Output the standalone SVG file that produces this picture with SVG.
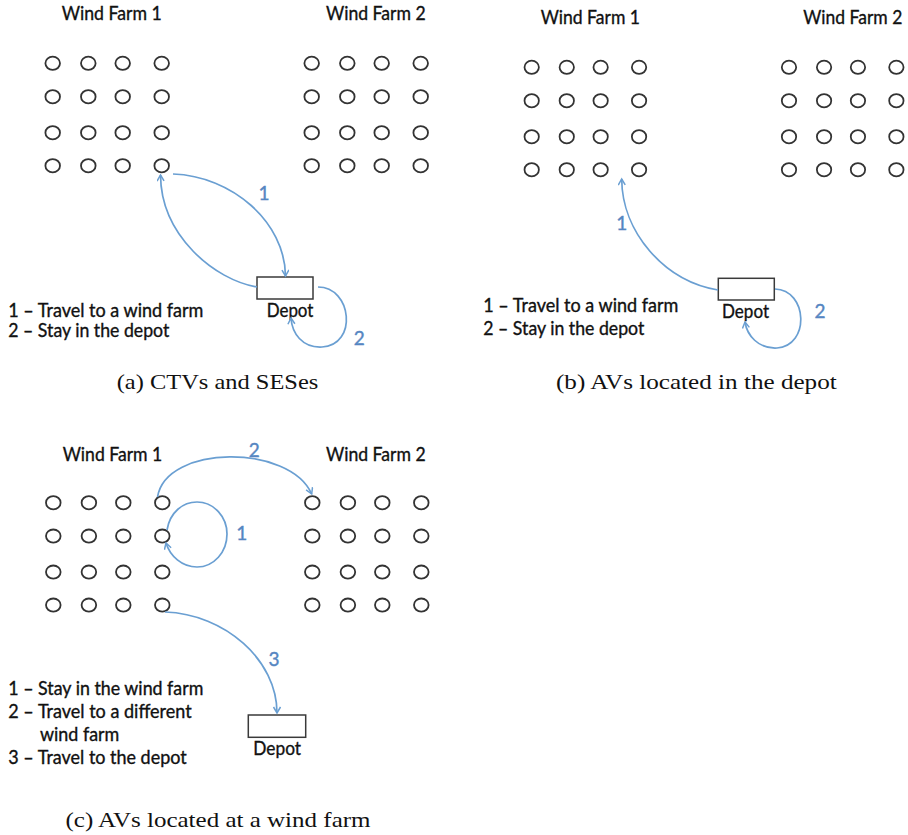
<svg xmlns="http://www.w3.org/2000/svg" width="908" height="835" viewBox="0 0 908 835">
  <style>
    .t { fill: none; stroke: #333333; stroke-width: 1.8; }
    .depot { fill: #ffffff; stroke: #3a3a3a; stroke-width: 1.5; }
    .lbl { font-family: Lato, "Liberation Sans", sans-serif; font-size: 18.5px; fill: #111111; stroke: #111111; stroke-width: 0.35px; }
    .num { font-family: Lato, "Liberation Sans", sans-serif; font-size: 19px; fill: #5586c2; stroke: #5586c2; stroke-width: 0.4px; text-anchor: middle; }
    .cap { font-family: "Liberation Serif", "DejaVu Serif", serif; font-size: 21.5px; fill: #111111; }
    .arc { fill: none; stroke: #6a9fd2; stroke-width: 1.7; marker-end: url(#head); }
  </style>
  <defs>
    <marker id="head" markerWidth="10" markerHeight="10" refX="7" refY="4" orient="auto" markerUnits="userSpaceOnUse">
      <path d="M1,0.5 L7,4 L1,7.5" fill="none" stroke="#6a9fd2" stroke-width="1.5"/>
    </marker>
    <!-- one 4x4 turbine array, origin at the top-left turbine -->
    <g id="farm">
      <ellipse class="t" cx="0" cy="0" rx="7.3" ry="6.6"/>
      <ellipse class="t" cx="35.6" cy="0" rx="7.3" ry="6.6"/>
      <ellipse class="t" cx="70" cy="0" rx="7.3" ry="6.6"/>
      <ellipse class="t" cx="109" cy="0" rx="7.3" ry="6.6"/>
      <ellipse class="t" cx="0" cy="33.4" rx="7.3" ry="6.6"/>
      <ellipse class="t" cx="35.6" cy="33.4" rx="7.3" ry="6.6"/>
      <ellipse class="t" cx="70" cy="33.4" rx="7.3" ry="6.6"/>
      <ellipse class="t" cx="109" cy="33.4" rx="7.3" ry="6.6"/>
      <ellipse class="t" cx="0" cy="69.4" rx="7.3" ry="6.6"/>
      <ellipse class="t" cx="35.6" cy="69.4" rx="7.3" ry="6.6"/>
      <ellipse class="t" cx="70" cy="69.4" rx="7.3" ry="6.6"/>
      <ellipse class="t" cx="109" cy="69.4" rx="7.3" ry="6.6"/>
      <ellipse class="t" cx="0" cy="102.4" rx="7.3" ry="6.6"/>
      <ellipse class="t" cx="35.6" cy="102.4" rx="7.3" ry="6.6"/>
      <ellipse class="t" cx="70" cy="102.4" rx="7.3" ry="6.6"/>
      <ellipse class="t" cx="109" cy="102.4" rx="7.3" ry="6.6"/>
    </g>
  </defs>

  <rect width="908" height="835" fill="#ffffff"/>

  <!-- ===== (a) CTVs and SESes ===== -->
  <g id="a-wf1">
    <text class="lbl" x="61.7" y="20" textLength="100" lengthAdjust="spacingAndGlyphs">Wind Farm 1</text>
    <use href="#farm" x="52.7" y="63.3"/>
  </g>
  <g id="a-wf2">
    <text class="lbl" x="326" y="20" textLength="99.7" lengthAdjust="spacingAndGlyphs">Wind Farm 2</text>
    <use href="#farm" x="311.7" y="63.3"/>
  </g>
  <g id="a-depot">
    <rect class="depot" x="257" y="277" width="56" height="22"/>
    <text class="lbl" x="266.7" y="316.5" textLength="46.7" lengthAdjust="spacingAndGlyphs">Depot</text>
  </g>
  <g id="a-legend">
    <text class="lbl" x="8.3" y="316.5" textLength="195" lengthAdjust="spacingAndGlyphs">1 – Travel to a wind farm</text>
    <text class="lbl" x="8.3" y="337" textLength="161" lengthAdjust="spacingAndGlyphs">2 – Stay in the depot</text>
  </g>
  <g id="a-connectors">
    <path class="arc" d="M257,287 C215,280 161,236 160.5,175"/>
    <path class="arc" d="M173,174 C232,176 285,222 285.5,276"/>
    <path class="arc" d="M318,287 C352,287 358,345 322,347 C302,348 292,333 291,318"/>
    <text class="num" x="264" y="199.5">1</text>
    <text class="num" x="359.3" y="344.5">2</text>
  </g>
  <text class="cap" x="116.7" y="388.5" textLength="201.6" lengthAdjust="spacingAndGlyphs">(a) CTVs and SESes</text>

  <!-- ===== (b) AVs located in the depot ===== -->
  <g id="b-wf1">
    <text class="lbl" x="540.7" y="24" textLength="99.3" lengthAdjust="spacingAndGlyphs">Wind Farm 1</text>
    <g transform="translate(531.7,67.3) scale(0.985,1)"><use href="#farm"/></g>
  </g>
  <g id="b-wf2">
    <text class="lbl" x="803.3" y="24" textLength="99" lengthAdjust="spacingAndGlyphs">Wind Farm 2</text>
    <g transform="translate(789,67.3) scale(0.985,1)"><use href="#farm"/></g>
  </g>
  <g id="b-depot">
    <rect class="depot" x="718.3" y="278.3" width="56" height="21.7"/>
    <text class="lbl" x="722" y="318" textLength="47" lengthAdjust="spacingAndGlyphs">Depot</text>
  </g>
  <g id="b-legend">
    <text class="lbl" x="483.3" y="312" textLength="195" lengthAdjust="spacingAndGlyphs">1 – Travel to a wind farm</text>
    <text class="lbl" x="483.3" y="335" textLength="161" lengthAdjust="spacingAndGlyphs">2 – Stay in the depot</text>
  </g>
  <g id="b-connectors">
    <path class="arc" d="M718,290 C664,281 622,232 621.7,179"/>
    <path class="arc" d="M775,289 C808,290 810,346 777,348 C758,349 747,335 745,322"/>
    <text class="num" x="621.7" y="230">1</text>
    <text class="num" x="820" y="318">2</text>
  </g>
  <text class="cap" x="556" y="388.5" textLength="280.7" lengthAdjust="spacingAndGlyphs">(b) AVs located in the depot</text>

  <!-- ===== (c) AVs located at a wind farm ===== -->
  <g id="c-wf1">
    <text class="lbl" x="62.7" y="460.7" textLength="99.6" lengthAdjust="spacingAndGlyphs">Wind Farm 1</text>
    <use href="#farm" x="53.3" y="502.7"/>
  </g>
  <g id="c-wf2">
    <text class="lbl" x="326" y="460.7" textLength="99.7" lengthAdjust="spacingAndGlyphs">Wind Farm 2</text>
    <use href="#farm" x="312.3" y="502.7"/>
  </g>
  <g id="c-depot">
    <rect class="depot" x="248.3" y="715" width="57.4" height="22.3"/>
    <text class="lbl" x="253.3" y="754.5" textLength="47.7" lengthAdjust="spacingAndGlyphs">Depot</text>
  </g>
  <g id="c-legend">
    <text class="lbl" x="8.3" y="695" textLength="195" lengthAdjust="spacingAndGlyphs">1 – Stay in the wind farm</text>
    <text class="lbl" x="8.3" y="718.3" textLength="183.4" lengthAdjust="spacingAndGlyphs">2 – Travel to a different</text>
    <text class="lbl" x="40" y="741" textLength="79.3" lengthAdjust="spacingAndGlyphs">wind farm</text>
    <text class="lbl" x="8.3" y="764" textLength="178.4" lengthAdjust="spacingAndGlyphs">3 – Travel to the depot</text>
  </g>
  <g id="c-connectors">
    <path class="arc" d="M157.5,497 C166,444 290,444 311.7,494"/>
    <path class="arc" d="M167,530 C170,512 183,502 197,502 C214,502 227,517 227,534 C227,552 214,567 197,567 C182,567 170,556 166,543"/>
    <path class="arc" d="M165,612 C225,614 277,660 277,713"/>
    <text class="num" x="254.3" y="457">2</text>
    <text class="num" x="241.7" y="539.5">1</text>
    <text class="num" x="274" y="665.5">3</text>
  </g>
  <text class="cap" x="65.5" y="826.5" textLength="305" lengthAdjust="spacingAndGlyphs">(c) AVs located at a wind farm</text>
</svg>
